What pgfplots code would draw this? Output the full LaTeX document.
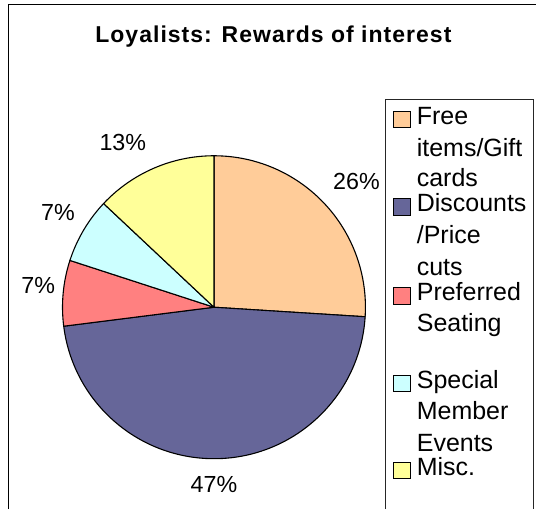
\documentclass[border=0pt]{standalone}
\usepackage{pgfplots}
\pgfplotsset{compat=1.18}
\usepackage{fontspec}
\setmainfont{Liberation Sans}
\newfontfamily\titlefont[LetterSpace=4.5]{Liberation Sans}
\definecolor{cFree}{HTML}{FFCC99}
\definecolor{cDisc}{HTML}{666699}
\definecolor{cPref}{HTML}{FF8080}
\definecolor{cSpec}{HTML}{CCFFFF}
\definecolor{cMisc}{HTML}{FFFF99}
\begin{document}
\begin{tikzpicture}
\begin{axis}[
  scale only axis, width=537bp, height=510bp,
  xmin=0, xmax=537, ymin=0, ymax=510,
  hide axis, clip=false]
% background and outer frame
\fill[white] (axis cs:0,0) rectangle (axis cs:537,510);
\draw[black, line width=1.6bp] (axis cs:8.5,0) -- (axis cs:8.5,505.5) -- (axis cs:537,505.5);
% title
\node[anchor=base, inner sep=0pt] at (axis cs:273.8,467.3)
  {\titlefont\bfseries\fontsize{23bp}{27bp}\selectfont Loyalists: Rewards of interest};
% pie slices: shares in percent, clockwise from 12 o'clock
\pgfmathsetmacro\a{90}
\xdef\a{\a}
\foreach \v/\c in {26/cFree,47/cDisc,7/cPref,7/cSpec,13/cMisc}{
  \pgfmathsetmacro\b{\a-3.6*\v}
  \edef\temp{\noexpand\filldraw[fill=\c, draw=black, line width=1.1bp, line join=round]
    (axis cs:214.3,202.3) -- ++(\a:151.7bp) arc[start angle=\a, end angle=\b, radius=151.7bp] -- cycle;}
  \temp
  \xdef\a{\b}
}
% percentage labels
\begin{scope}[every node/.style={anchor=base, inner sep=0pt, font=\fontsize{23.3bp}{28bp}\selectfont}]
\node at (axis cs:357,320.7) {26\%};
\node at (axis cs:214.3,16.7) {47\%};
\node at (axis cs:38.3,216) {7\%};
\node at (axis cs:58,289.3) {7\%};
\node at (axis cs:123,359.3) {13\%};
\end{scope}
% legend box
\draw[black!85, line width=0.9bp] (axis cs:385.7,0) -- (axis cs:385.7,410) -- (axis cs:534,410) -- (axis cs:534,0);
% legend keys
\foreach \t/\c in {111.7/cFree,199/cDisc,288/cPref,376/cSpec,462.7/cMisc}{
  \edef\temp{\noexpand\filldraw[fill=\c, draw=black, line width=1bp]
    (axis cs:394.3,{510-\t}) rectangle (axis cs:411,{510-\t-16.5});}
  \temp
}
% legend text
\begin{scope}[every node/.style={anchor=base west, inner sep=0pt, font=\fontsize{25bp}{29bp}\selectfont}]
\node at (axis cs:417.3,385) {Free};
\node at (axis cs:417.3,353.3) {items/Gift};
\node at (axis cs:417.3,323) {cards};
\node at (axis cs:417.3,298) {Discounts};
\node at (axis cs:417.3,266) {/Price};
\node at (axis cs:417.3,234.3) {cuts};
\node at (axis cs:417.3,209) {Preferred};
\node at (axis cs:417.3,177.7) {Seating};
\node at (axis cs:417.3,121) {Special};
\node at (axis cs:417.3,90) {Member};
\node at (axis cs:417.3,58.3) {Events};
\node at (axis cs:417.3,34) {Misc.};
\end{scope}
\end{axis}
\end{tikzpicture}
\end{document}
